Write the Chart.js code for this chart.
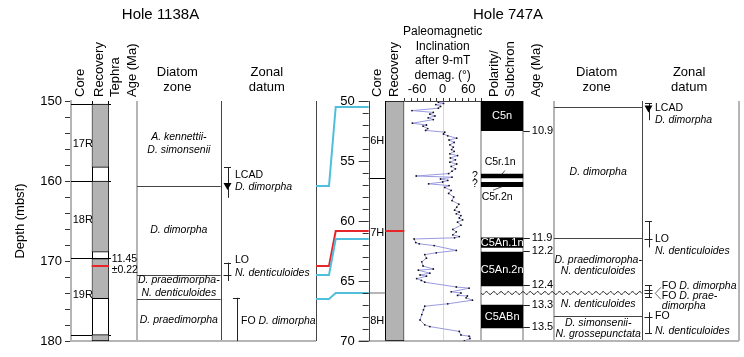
<!DOCTYPE html>
<html><head><meta charset="utf-8">
<script src="https://cdn.jsdelivr.net/npm/chart.js@4.4.0/dist/chart.umd.min.js"></script>
<style>html,body{margin:0;padding:0;background:#fff;}#wrap{width:744px;height:357px;}</style>
</head><body><div id="wrap"><canvas id="c" width="744" height="357"></canvas></div>
<script>
// ================= DATA =================
// ---- Hole 1138A ----
const coreNames1138 = ['17R', '18R', '19R'];
const coreLabelDepth1138 = [155.4, 164.9, 174.3];
const coreBreaks1138 = [150.4, 160.0, 169.6, 179.2];
const recoveryTop1138 = [150.4, 160.0, 169.7, 179.2];
const recoveryBottom1138 = [158.3, 168.9, 174.7, 180.0];
const tephraDepth1138 = 170.65;
const tephraAgeText = ['11.45', '±0.22'];
const zoneTop1138 = [150.0, 160.6, 171.7, 174.7];
const zoneBottom1138 = [160.6, 171.7, 174.7, 180.0];
const zoneNames1138 = [['A. kennettii-', 'D. simonsenii'], ['D. dimorpha'], ['D. praedimorpha-', 'N. denticuloides'], ['D. praedimorpha']];
const datumMark1138 = [160.7, 171.75, 174.6];
const datumLow1138 = [158.3, 170.2, 174.6];
const datumHigh1138 = [162.1, 172.5, 180.0];
const datumLabel1138 = [['LCAD', '*D. dimorpha'], ['LO', '*N. denticuloides'], ['FO *D. dimorpha']];

// ---- tie lines between holes ----
const tieDepth1138 = [160.6, 170.65, 171.7, 174.75];
const tieDepth747 = [50.5, 60.85, 61.5, 66.0];

// ---- Hole 747A ----
const coreNames747 = ['6H', '7H', '8H'];
const coreLabelDepth747 = [53.3, 61.0, 68.3];
const coreBreaks747 = [56.45, 66.0];
const recoveryTop747 = [50.0];
const recoveryBottom747 = [70.0];
const tephraDepth747 = 60.85;
const incDepth = [50.00, 50.10, 50.20, 50.30, 50.45, 50.60, 50.80, 50.95, 51.10, 51.25, 51.40, 51.55, 51.85, 52.00, 52.10, 52.30, 52.45,
  52.60, 52.75, 52.90, 53.10, 53.25, 53.45, 53.65, 53.85, 54.05, 54.20, 54.40, 54.55, 54.75, 54.90, 55.10, 55.25, 55.45, 55.65, 55.85, 56.05,
  56.25, 56.35, 56.50, 56.62, 56.75, 56.90, 57.05, 57.20, 57.45, 57.70, 58.00, 58.30, 58.60, 58.85, 59.10, 59.25, 59.40, 59.55, 59.75, 59.90,
  60.10, 60.35, 60.70, 60.90, 61.15, 61.30, 61.40, 61.50, 61.80, 61.90, 62.05, 62.45, 62.65, 62.80, 63.10, 63.40, 63.75, 64.00, 64.10, 64.35,
  64.50, 64.60, 64.80, 64.95, 65.10, 65.50, 65.60, 65.90, 66.00, 66.20, 66.25, 66.40, 66.60, 66.90, 67.10, 67.40, 67.80, 68.25, 68.65, 68.80,
  69.20, 69.50, 69.60, 69.80, 70.00];
const incValue = [-3, -10, 2, -16, -5, -10, -72, -22, -30, -18, -34, -22, -71, -38, -46, -35, -40,
  5, 2, 12, 33, 15, 27, 17, 25, 21, 27, 17, 35, 18, 30, 17, 33, 20, 30, 22, 14,
  -62, 22, -5, 12, 0, -33, 15, 5, 20, 14, 26, 22, 38, 33, 28, 39, 32, 43, 39, 47,
  35, 43, 24, 32, 24, 39, 28, -67, -63, -55, -20, 32, -15, -42, -38, -49, -46, -22, -57, -30,
  -53, -38, -61, -50, -42, 32, 62, 20, 43, 35, 58, 55, 70, 12, -42, -45, -49, -53, -42, -30,
  39, 43, 62, 64, 51];
const chronNames = ['C5n', '', '', 'C5An.1n', 'C5An.2n', 'C5ABn'];
const chronTop = [50.0, 56.08, 56.78, 61.4, 62.6, 67.0];
const chronBottom = [52.47, 56.42, 57.14, 62.2, 65.4, 68.9];
const subchronNotes = ['C5r.1n', 'C5r.2n'];
const ageText747 = ['10.9', '11.9', '12.2', '12.4', '13.3', '13.5'];
const ageDepth747 = [52.47, 61.4, 62.5, 65.35, 67.0, 68.8];
const zoneBreaks747 = [50.5, 61.4, 67.9];
const hiatusDepth747 = 66.0;
const zoneTop747 = [50.5, 61.4, 66.0, 67.9];
const zoneBottom747 = [61.4, 66.0, 67.9, 70.0];
const zoneNames747 = [['D. dimorpha'], ['D. praedimoropha-', 'N. denticuloides'], ['N. denticuloides'], ['D. simonsenii-', 'N. grossepunctata']];
const datumMark747 = [50.67, 61.5, 65.72, 66.03, 67.97];
const datumLow747 = [50.2, 60.0, 65.35, 66.03, 67.6];
const datumHigh747 = [51.6, 62.2, 66.03, 66.37, 69.36];
const datumLabel747 = [['LCAD', '*D. dimorpha'], ['LO', '*N. denticuloides'], ['FO *D. dimorpha'], ['FO *D. prae-', '*dimorpha'], ['FO', '*N. denticuloides']];

// ================= STYLE / LAYOUT =================
const FONT = "'Liberation Sans', Arial, Helvetica, sans-serif";
const GRAY = '#b5b5b5', DARK = '#444', RECGRAY = '#b3b3b3';
const CYAN = '#4fbfdc', RED = '#e8262a';
const tieColors = [CYAN, RED, CYAN, CYAN];
const coreBreakStyle747 = [['#000', 1], [GRAY, 2]];
const datumStyle1138 = [
  {bx: 6, tx: 14.3, dy: [-11.6, 0.4], mark: 'tri', capLow: true, capHigh: false},
  {bx: 6, tx: 14.3, dy: [-14.7, -1.7], mark: 'tick', capLow: true, capHigh: false},
  {bx: 15.6, tx: 20.3, dy: [23], mark: 'none', capLow: true, capHigh: false}
];
const datumStyle747 = [
  {bx: 6, tx: 12.7, dy: [-1, 11], mark: 'tri', capLow: true, capHigh: false},
  {bx: 6, tx: 12.7, dy: [0, 12], mark: 'tick', capLow: true, capHigh: false},
  {bx: 6, tx: 19.5, dy: [-4], mark: 'tick', capLow: true, capHigh: true},
  {bx: 6, tx: 19.5, dy: [2.6, 12.6], mark: 'tick', capLow: false, capHigh: true},
  {bx: 6, tx: 12.7, dy: [-1, 14], mark: 'tick', capLow: false, capHigh: true}
];
const cols = [
  {id: 'c1Core', w: 20.7}, {id: 'c1Rec', w: 17.3, cat: true}, {id: 'c1Teph', w: 28.0},
  {id: 'c1Zone', w: 83.7}, {id: 'c1Datum', w: 95.3}, {id: 'gap', w: 52.7},
  {id: 'c2Core', w: 16.6}, {id: 'c2Rec', w: 19.0, cat: true}, {id: 'c2Inc', w: 76.7, inc: true},
  {id: 'c2Pol', w: 42.3, cat: true}, {id: 'c2Age', w: 30.7}, {id: 'c2Zone', w: 88.3}, {id: 'c2Datum', w: 96.7}
];

// ================= SCALES =================
const scales = {
  y1138: {
    axis: 'y', type: 'linear', position: 'left', min: 150, max: 180, reverse: true,
    afterFit: s => { s.width = 71; },
    ticks: {stepSize: 2, autoSkip: false, padding: 3, color: '#000', font: {family: FONT, size: 13},
      callback: v => (v % 10 === 0 ? String(v) : '')},
    grid: {drawOnChartArea: false, tickLength: 6, color: '#333'},
    border: {display: true, color: GRAY, width: 2},
    title: {display: true, text: 'Depth (mbsf)', color: '#000', font: {family: FONT, size: 13}, padding: {top: 13, bottom: 0}}
  },
  y747: {axis: 'y', type: 'linear', position: 'right', display: false, min: 50, max: 70, reverse: true,
    ticks: {stepSize: 1, autoSkip: false}}
};
cols.forEach(col => {
  const s = {axis: 'x', position: 'bottom', display: false, stack: 'cols', stackWeight: col.w, offset: !!col.cat};
  if (col.cat) Object.assign(s, {type: 'category', labels: ['r']});
  else if (col.inc) Object.assign(s, {type: 'linear', min: -90, max: 90, ticks: {stepSize: 15, autoSkip: false}});
  else Object.assign(s, {type: 'linear', min: 0, max: 1});
  scales[col.id] = s;
});

// ================= DRAW HELPERS =================
function L(ctx, x1, y1, x2, y2, color, w) {
  const o = (w % 2 === 1) ? 0.5 : 0;
  if (x1 === x2) { x1 = x2 = Math.round(x1) + o; }
  if (y1 === y2) { y1 = y2 = Math.round(y1) + o; }
  ctx.beginPath(); ctx.strokeStyle = color; ctx.lineWidth = w;
  ctx.moveTo(x1, y1); ctx.lineTo(x2, y2); ctx.stroke();
}
function T(ctx, s, x, y, size, opt) {
  opt = opt || {};
  ctx.font = (opt.italic ? 'italic ' : '') + (opt.bold ? 'bold ' : '') + size + 'px ' + FONT;
  ctx.fillStyle = opt.color || '#000';
  ctx.textAlign = opt.align || 'left';
  ctx.textBaseline = 'middle';
  ctx.fillText(s, x, y);
}
function RT(ctx, s, x, y, size, align) {
  const k = s.indexOf('*');
  const parts = k < 0 ? [[s, false]] : [[s.slice(0, k), false], [s.slice(k + 1), true]];
  let total = 0;
  parts.forEach(p => { ctx.font = (p[1] ? 'italic ' : '') + size + 'px ' + FONT; total += ctx.measureText(p[0]).width; });
  let cx = align === 'center' ? x - total / 2 : x;
  parts.forEach(p => { T(ctx, p[0], cx, y, size, {italic: p[1]}); ctx.font = (p[1] ? 'italic ' : '') + size + 'px ' + FONT; cx += ctx.measureText(p[0]).width; });
}
function VT(ctx, s, x, yb, size) {
  ctx.save(); ctx.translate(x, yb); ctx.rotate(-Math.PI / 2);
  T(ctx, s, 0, 0, size); ctx.restore();
}
function drawDatum(ctx, colScale, yf, mark, low, high, label, st) {
  const bx = Math.round(colScale.left + st.bx) + 0.5;
  const y0 = yf(low), y1 = yf(high), ym = yf(mark);
  L(ctx, bx, y0, bx, y1, '#222', 1);
  if (st.capLow) L(ctx, bx - 3.5, y0, bx + 3.5, y0, '#222', 1);
  if (st.capHigh) L(ctx, bx - 3.5, y1, bx + 3.5, y1, '#222', 1);
  if (st.mark === 'tick') L(ctx, bx - 4, ym, bx + 4, ym, '#222', 1);
  if (st.mark === 'tri') {
    ctx.beginPath(); ctx.fillStyle = '#000';
    ctx.moveTo(bx - 4, ym - 3.5); ctx.lineTo(bx + 4, ym - 3.5); ctx.lineTo(bx, ym + 3.5); ctx.closePath(); ctx.fill();
  }
  label.forEach((s, i) => RT(ctx, s, colScale.left + st.tx, ym + st.dy[i], 10.5, 'left'));
}

// ================= PLUGIN =================
const figPlugin = {
  id: 'fig',
  beforeDatasetsDraw(c) {
    const ctx = c.ctx, A = c.chartArea, top = A.top, bot = A.bottom, S = c.scales;
    const yA = d => S.y1138.getPixelForValue(d), yB = d => S.y747.getPixelForValue(d);
    ctx.save();
    L(ctx, S.c2Inc.getPixelForValue(0), top, S.c2Inc.getPixelForValue(0), bot, '#d6d6d6', 1);
    L(ctx, S.c1Rec.left, top, S.c1Rec.left, bot, '#000', 1);
    L(ctx, S.c1Rec.right - 1, top, S.c1Rec.right - 1, bot, '#000', 1);
    L(ctx, S.c1Zone.left, top, S.c1Zone.left, bot, GRAY, 2);
    L(ctx, S.c1Datum.left, top, S.c1Datum.left, bot, DARK, 1);
    L(ctx, S.c1Datum.right, top, S.c1Datum.right, bot, DARK, 1);
    L(ctx, A.left, bot, S.c1Datum.right, bot, GRAY, 2);
    L(ctx, S.c2Rec.left, top, S.c2Rec.left, bot, '#000', 1);
    L(ctx, S.c2Rec.right - 1, top, S.c2Rec.right - 1, bot, '#000', 1);
    [S.c2Pol.left, S.c2Pol.right, S.c2Zone.left, S.c2Datum.right].forEach(x => L(ctx, x, top, x, bot, GRAY, 2));
    L(ctx, S.c2Datum.left, top, S.c2Datum.left, bot, DARK, 1);
    L(ctx, S.c2Core.left - 10, bot, S.c2Datum.right, bot, GRAY, 2);
    coreBreaks1138.forEach(d => L(ctx, S.c1Core.left, yA(d), S.c1Rec.right + 2, yA(d), '#000', 1));
    coreBreaks747.forEach((d, i) => L(ctx, S.c2Core.left, yB(d), S.c2Rec.left, yB(d), coreBreakStyle747[i][0], coreBreakStyle747[i][1]));
    zoneTop1138.slice(1).forEach(d => L(ctx, S.c1Zone.left, yA(d), S.c1Zone.right, yA(d), DARK, 1));
    zoneBreaks747.forEach(d => L(ctx, S.c2Zone.left, yB(d), S.c2Zone.right, yB(d), DARK, 1));
    ctx.beginPath(); ctx.strokeStyle = '#333'; ctx.lineWidth = 1;
    const yh = yB(hiatusDepth747), xs = S.c2Pol.left, xe = S.c2Zone.right;
    for (let x = xs; x <= xe; x += 1) {
      const y = yh + 1.5 * Math.sin((x - xs) / 7.3 * 2 * Math.PI);
      if (x === xs) ctx.moveTo(x, y); else ctx.lineTo(x, y);
    }
    ctx.stroke();
    const g0 = S.gap.left, g3 = S.c2Core.left;
    tieDepth1138.forEach((d, i) => {
      ctx.beginPath(); ctx.strokeStyle = tieColors[i]; ctx.lineWidth = 2;
      ctx.moveTo(g0, Math.round(yA(d))); ctx.lineTo(g0 + 13, Math.round(yA(d)));
      ctx.lineTo(g0 + 19.7, Math.round(yB(tieDepth747[i]))); ctx.lineTo(g3, Math.round(yB(tieDepth747[i])));
      ctx.stroke();
    });
    ctx.restore();
  },
  afterDatasetsDraw(c) {
    const ctx = c.ctx, A = c.chartArea, top = A.top, bot = A.bottom, S = c.scales;
    const yA = d => S.y1138.getPixelForValue(d), yB = d => S.y747.getPixelForValue(d);
    const mid = s => (s.left + s.right) / 2;
    ctx.save();
    L(ctx, S.c1Rec.left, yA(tephraDepth1138), S.c1Rec.right, yA(tephraDepth1138), RED, 2);
    L(ctx, S.c2Rec.left, yB(tephraDepth747), S.c2Rec.right, yB(tephraDepth747), RED, 2);
    T(ctx, tephraAgeText[0], S.c1Teph.left + 2.7, yA(tephraDepth1138) - 7, 10.5);
    T(ctx, tephraAgeText[1], S.c1Teph.left + 2.7, yA(tephraDepth1138) + 4, 10.5);
    coreNames1138.forEach((n, i) => T(ctx, n, S.c1Core.left + 1.7, yA(coreLabelDepth1138[i]), 11));
    coreNames747.forEach((n, i) => T(ctx, n, S.c2Core.left + 1.5, yB(coreLabelDepth747[i]), 11));
    zoneNames1138.forEach((lines, i) => {
      const yc = (yA(zoneTop1138[i]) + yA(zoneBottom1138[i])) / 2;
      lines.forEach((s, j) => T(ctx, s, mid(S.c1Zone), yc + (j - (lines.length - 1) / 2) * 12.5, 10.5, {italic: true, align: 'center'}));
    });
    zoneNames747.forEach((lines, i) => {
      const yc = (yB(zoneTop747[i]) + yB(zoneBottom747[i])) / 2;
      lines.forEach((s, j) => T(ctx, s, mid(S.c2Zone), yc + (j - (lines.length - 1) / 2) * 11, 10.5, {italic: true, align: 'center'}));
    });
    datumMark1138.forEach((m, i) => drawDatum(ctx, S.c1Datum, yA, m, datumLow1138[i], datumHigh1138[i], datumLabel1138[i], datumStyle1138[i]));
    datumMark747.forEach((m, i) => drawDatum(ctx, S.c2Datum, yB, m, datumLow747[i], datumHigh747[i], datumLabel747[i], datumStyle747[i]));
    const vx = S.c2Datum.left + 13, vy = yB(datumMark747[3]);
    ctx.beginPath(); ctx.strokeStyle = '#444'; ctx.lineWidth = 0.8;
    ctx.moveTo(vx + 5.5, vy - 6); ctx.lineTo(vx, vy); ctx.lineTo(vx + 5.5, vy + 6); ctx.stroke();
    chronNames.forEach((n, i) => {
      if (n) T(ctx, n, mid(S.c2Pol), (yB(chronTop[i]) + yB(chronBottom[i])) / 2 + 0.5, 11, {color: '#fff', align: 'center'});
    });
    T(ctx, subchronNotes[0], mid(S.c2Pol) - 2, yB(chronTop[1]) - 11.5, 10.5, {align: 'center'});
    T(ctx, subchronNotes[1], mid(S.c2Pol) - 5, yB(chronBottom[2]) + 10, 10.5, {align: 'center'});
    ctx.strokeStyle = '#222'; ctx.lineWidth = 0.8;
    ctx.beginPath(); ctx.moveTo(S.c2Pol.left + 21, yB(chronTop[1])); ctx.lineTo(S.c2Pol.left + 24, yB(chronTop[1]) - 3.5); ctx.stroke();
    ctx.beginPath(); ctx.moveTo(S.c2Pol.left + 12, yB(chronBottom[2]) + 3.5); ctx.lineTo(S.c2Pol.left + 21, yB(chronBottom[2])); ctx.stroke();
    T(ctx, '?', S.c2Pol.left - 6, (yB(chronTop[1]) + yB(chronBottom[1])) / 2, 10.5, {align: 'center'});
    T(ctx, '?', S.c2Pol.left - 6, (yB(chronTop[2]) + yB(chronBottom[2])) / 2, 10.5, {align: 'center'});
    ageText747.forEach((s, i) => {
      const y = yB(ageDepth747[i]);
      L(ctx, S.c2Age.left, y, S.c2Age.left + 6.5, y, '#222', 1);
      T(ctx, s, S.c2Age.left + 8.5, y, 11);
    });
    const ax = S.c2Core.left;
    L(ctx, ax, top, ax, bot, DARK, 1);
    S.y747.ticks.forEach(t => {
      const y = yB(t.value), major = t.value % 5 === 0;
      L(ctx, ax - (major ? 10 : 6), y, ax, y, '#333', 1);
      if (major) T(ctx, String(t.value), ax - 14, y, 13, {align: 'right'});
    });
    L(ctx, S.c2Inc.left, top, S.c2Inc.right, top, DARK, 1);
    S.c2Inc.ticks.forEach(t => {
      const x = S.c2Inc.getPixelForValue(t.value);
      L(ctx, x, top - 3, x, top, '#333', 1);
      if (t.value % 60 === 0 && Math.abs(t.value) < 90) T(ctx, String(t.value), x, top - 12, 13, {align: 'center'});
    });
    ['Paleomagnetic', 'Inclination', 'after 9-mT', 'demag. (°)'].forEach((s, i) =>
      T(ctx, s, mid(S.c2Inc), top - 69.3 + i * 14.5, 12, {align: 'center'}));
    const hb = top - 4;
    VT(ctx, 'Core', mid(S.c1Core) - 1, hb, 13);
    VT(ctx, 'Recovery', mid(S.c1Rec) - 1, hb, 13);
    VT(ctx, 'Tephra', S.c1Teph.left + 6, hb, 13);
    VT(ctx, 'Age (Ma)', S.c1Teph.left + 23, hb, 13);
    VT(ctx, 'Core', mid(S.c2Core), hb, 13);
    VT(ctx, 'Recovery', mid(S.c2Rec), hb, 13);
    VT(ctx, 'Polarity/', S.c2Pol.left + 13, hb, 13);
    VT(ctx, 'Subchron', S.c2Pol.left + 29, hb, 13);
    VT(ctx, 'Age (Ma)', S.c2Age.left + 13.4, hb, 13);
    [[S.c1Zone, 'Diatom', 'zone'], [S.c1Datum, 'Zonal', 'datum'], [S.c2Zone, 'Diatom', 'zone'], [S.c2Datum, 'Zonal', 'datum']].forEach(h => {
      T(ctx, h[1], mid(h[0]) - 1.5, top - 29, 13, {align: 'center'});
      T(ctx, h[2], mid(h[0]) - 1.5, top - 14, 13, {align: 'center'});
    });
    T(ctx, 'Hole 1138A', S.c1Teph.left + 51.5, 15, 15, {align: 'center'});
    T(ctx, 'Hole 747A', S.c2Pol.left + 27, 15, 15, {align: 'center'});
    ctx.restore();
  }
};

// ================= CHART =================
const barCommon = {type: 'bar', grouped: false, barPercentage: 1, categoryPercentage: 1, borderSkipped: false};
new Chart(document.getElementById('c'), {
  type: 'bar',
  data: {
    datasets: [
      Object.assign({}, barCommon, {label: 'Recovery 1138A', xAxisID: 'c1Rec', yAxisID: 'y1138',
        data: recoveryTop1138.map((t, i) => ({x: 'r', y: [t, recoveryBottom1138[i]]})),
        backgroundColor: RECGRAY, borderColor: '#000', borderWidth: 1}),
      Object.assign({}, barCommon, {label: 'Recovery 747A', xAxisID: 'c2Rec', yAxisID: 'y747',
        data: recoveryTop747.map((t, i) => ({x: 'r', y: [t, recoveryBottom747[i]]})),
        backgroundColor: RECGRAY, borderColor: '#000', borderWidth: 1}),
      Object.assign({}, barCommon, {label: 'Polarity', xAxisID: 'c2Pol', yAxisID: 'y747',
        data: chronTop.map((t, i) => ({x: 'r', y: [t, chronBottom[i]]})),
        backgroundColor: '#000', borderWidth: 0}),
      {type: 'line', label: 'Inclination', xAxisID: 'c2Inc', yAxisID: 'y747',
        data: incDepth.map((d, i) => ({x: incValue[i], y: d})),
        borderColor: '#9a9ae0', borderWidth: 1, pointRadius: 0.9, pointBackgroundColor: '#111', pointBorderWidth: 0, tension: 0, fill: false}
    ]
  },
  options: {
    responsive: false, devicePixelRatio: 1, animation: false, events: [],
    layout: {padding: {left: 0, right: 5, top: 101, bottom: 16}},
    plugins: {legend: {display: false}, tooltip: {enabled: false}, title: {display: false}},
    scales: scales
  },
  plugins: [figPlugin]
});
</script></body></html>
